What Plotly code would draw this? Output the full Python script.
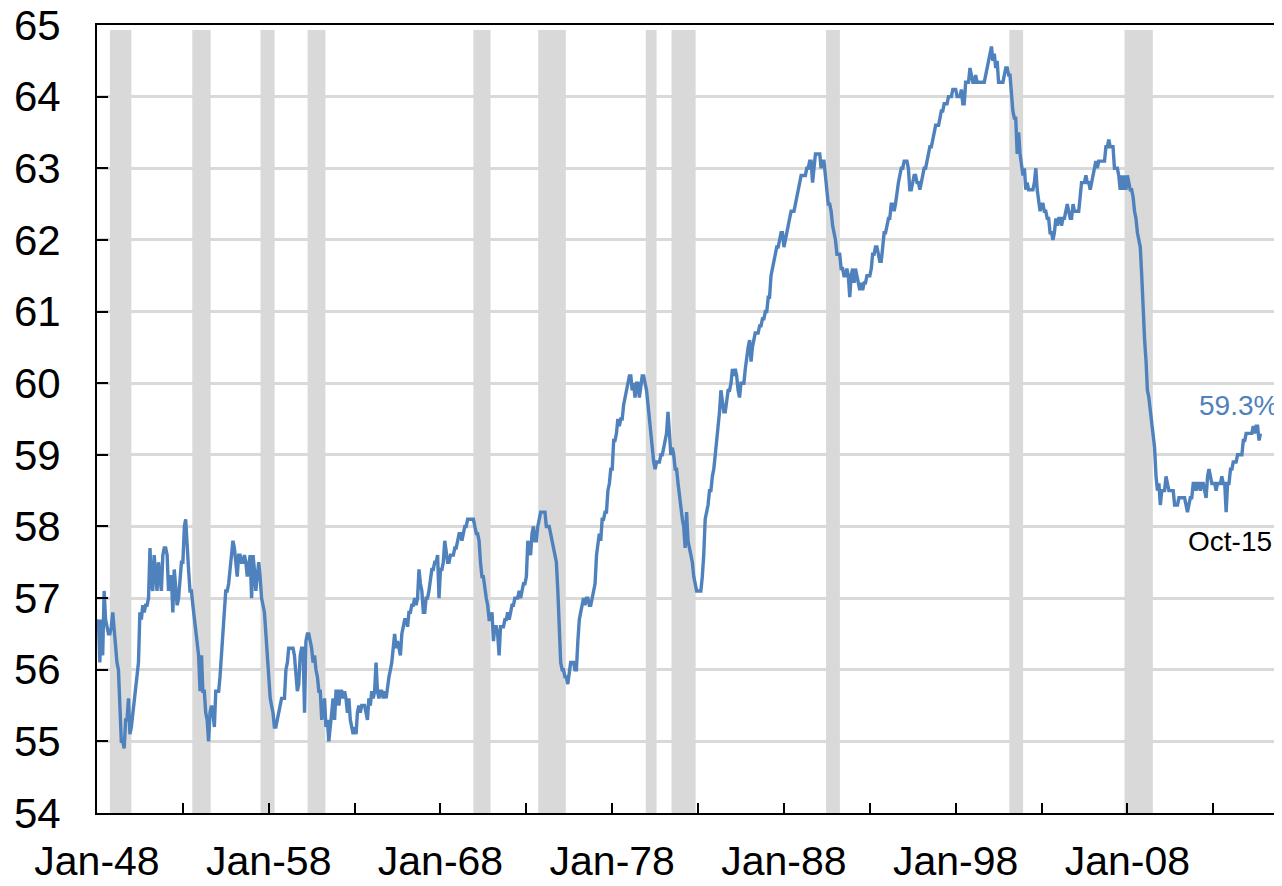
import pandas as pd
import plotly.graph_objects as go

# Employment-population ratio, monthly, seasonally adjusted (%), Jan-1948 .. Oct-2015
ratio_1948_1949 = [
    56.6, 56.7, 56.1, 56.7, 56.2, 57.1, 56.7, 56.6, 56.5, 56.5, 56.6, 56.8,
    56.5, 56.2, 56.1, 56.0, 55.4, 55.0, 55.0, 54.9, 55.3, 55.3, 55.6, 55.1,
]
ratio_1950s = [
    55.2, 55.4, 55.6, 55.8, 55.9, 56.1, 56.8, 56.7, 56.9, 56.8, 56.9, 56.9,
    57.0, 57.7, 57.2, 57.1, 57.6, 57.4, 57.1, 57.5, 57.3, 57.1, 57.6, 57.7,
    57.7, 57.6, 57.1, 57.3, 57.3, 56.8, 57.4, 57.2, 56.9, 57.0, 57.3, 57.5,
    57.5, 58.0, 58.1, 57.6, 57.4, 57.1, 57.1, 56.9, 56.7, 56.5, 56.3, 56.2,
    55.7, 56.2, 55.7, 55.7, 55.4, 55.3, 55.0, 55.4, 55.5, 55.4, 55.2, 55.7,
    55.7, 55.7, 55.9, 56.2, 56.5, 56.8, 57.1, 57.1, 57.2, 57.4, 57.6, 57.8,
    57.7, 57.5, 57.3, 57.6, 57.6, 57.5, 57.5, 57.6, 57.5, 57.3, 57.5, 57.6,
    57.0, 57.6, 57.4, 57.1, 57.3, 57.5, 57.3, 57.0, 56.9, 56.8, 56.5, 56.2,
    55.9, 55.6, 55.5, 55.4, 55.2, 55.2, 55.3, 55.4, 55.5, 55.6, 55.6, 55.6,
    56.0, 56.1, 56.3, 56.3, 56.3, 56.3, 56.2, 56.0, 55.7, 55.8, 56.2, 56.3,
]
ratio_1960s = [
    56.3, 55.4, 56.4, 56.5, 56.5, 56.4, 56.3, 56.1, 56.2, 56.0, 55.9, 55.7,
    55.7, 55.3, 55.5, 55.6, 55.2, 55.3, 55.0, 55.2, 55.4, 55.6, 55.3, 55.7,
    55.7, 55.5, 55.7, 55.7, 55.6, 55.7, 55.6, 55.4, 55.6, 55.3, 55.2, 55.1,
    55.2, 55.1, 55.4, 55.5, 55.4, 55.5, 55.5, 55.5, 55.4, 55.3, 55.6, 55.5,
    55.7, 55.6, 55.7, 56.1, 55.7, 55.6, 55.7, 55.7, 55.6, 55.7, 55.6, 55.8,
    55.9, 56.0, 56.1, 56.3, 56.5, 56.3, 56.4, 56.3, 56.2, 56.5, 56.6, 56.7,
    56.7, 56.6, 56.8, 56.8, 56.9, 56.9, 57.0, 56.9, 57.0, 57.4, 57.2, 57.1,
    56.8, 56.8, 57.0, 57.0, 57.1, 57.3, 57.4, 57.4, 57.5, 57.5, 57.6, 57.0,
    57.4, 57.4, 57.5, 57.8, 57.6, 57.5, 57.5, 57.6, 57.6, 57.6, 57.7, 57.7,
    57.8, 57.9, 57.9, 57.8, 57.9, 58.0, 58.0, 58.1, 58.1, 58.1, 58.1, 58.1,
]
ratio_1970s = [
    58.0, 57.9, 57.9, 57.8, 57.5, 57.3, 57.3, 57.1, 57.0, 56.9, 56.7, 56.7,
    56.8, 56.4, 56.6, 56.6, 56.5, 56.2, 56.6, 56.6, 56.6, 56.7, 56.7, 56.8,
    56.7, 56.8, 56.9, 56.9, 57.0, 57.0, 57.0, 57.1, 57.0, 57.1, 57.2, 57.2,
    57.3, 57.8, 57.7, 57.6, 57.9, 58.0, 57.8, 57.8, 58.0, 58.1, 58.2, 58.2,
    58.2, 58.2, 58.0, 58.0, 58.0, 57.9, 57.8, 57.7, 57.6, 57.5, 57.1, 56.7,
    56.1, 56.0, 56.0, 55.9, 55.9, 55.8, 56.0, 56.1, 56.1, 56.1, 56.0, 56.0,
    56.4, 56.7, 56.8, 56.9, 57.0, 56.9, 57.0, 57.0, 56.9, 56.9, 57.0, 57.1,
    57.2, 57.6, 57.8, 57.9, 57.8, 58.1, 58.1, 58.2, 58.2, 58.5, 58.6, 58.8,
    58.8, 59.2, 59.2, 59.3, 59.5, 59.4, 59.5, 59.5, 59.7, 59.8, 59.9, 60.0,
    60.1, 60.1, 59.9, 60.0, 59.8, 60.0, 60.0, 59.8, 60.0, 60.1, 60.1, 60.0,
]
ratio_1980s = [
    59.9, 59.7, 59.5, 59.4, 59.1, 58.9, 58.8, 58.9, 58.9, 58.9, 59.0, 59.0,
    59.1, 59.2, 59.3, 59.6, 59.3, 59.0, 59.1, 59.0, 58.8, 58.8, 58.6, 58.4,
    58.2, 58.1, 58.0, 57.7, 58.2, 57.8, 57.7, 57.6, 57.5, 57.3, 57.2, 57.1,
    57.1, 57.1, 57.1, 57.3, 57.6, 58.1, 58.2, 58.3, 58.5, 58.5, 58.7, 58.8,
    59.0, 59.2, 59.4, 59.6, 59.9, 59.7, 59.6, 59.6, 59.8, 59.9, 59.9, 60.0,
    60.2, 60.1, 60.2, 60.1, 59.9, 59.8, 60.0, 60.0, 60.0, 60.2, 60.4, 60.5,
    60.6, 60.3, 60.5, 60.6, 60.7, 60.7, 60.7, 60.8, 60.8, 60.9, 60.9, 61.0,
    61.0, 61.2, 61.2, 61.5, 61.6, 61.7, 61.8, 61.9, 61.9, 62.0, 62.1, 62.1,
    61.9, 62.0, 62.1, 62.2, 62.3, 62.4, 62.4, 62.4, 62.5, 62.6, 62.7, 62.8,
    62.9, 62.9, 62.9, 62.9, 63.0, 63.0, 63.1, 63.1, 62.8, 63.0, 63.2, 63.2,
]
ratio_1990s = [
    63.2, 63.2, 63.0, 63.1, 63.1, 62.9, 62.7, 62.5, 62.5, 62.4, 62.2, 62.1,
    62.0, 61.8, 61.8, 61.8, 61.6, 61.6, 61.5, 61.5, 61.6, 61.5, 61.2, 61.5,
    61.6, 61.4, 61.6, 61.5, 61.4, 61.3, 61.4, 61.3, 61.4, 61.4, 61.5, 61.5,
    61.5, 61.6, 61.8, 61.8, 61.9, 61.9, 61.8, 61.7, 61.7, 61.9, 62.1, 62.1,
    62.2, 62.3, 62.3, 62.5, 62.5, 62.4, 62.5, 62.7, 62.8, 62.9, 63.0, 63.0,
    63.1, 63.1, 63.1, 63.0, 62.7, 62.7, 62.8, 62.9, 62.9, 62.8, 62.8, 62.7,
    62.8, 62.9, 63.0, 63.0, 63.1, 63.2, 63.3, 63.3, 63.4, 63.5, 63.6, 63.6,
    63.6, 63.7, 63.8, 63.8, 63.9, 63.9, 63.9, 64.0, 64.0, 64.0, 64.1, 64.1,
    64.1, 64.0, 64.0, 64.0, 64.1, 63.9, 63.9, 64.2, 64.2, 64.2, 64.4, 64.3,
    64.2, 64.2, 64.3, 64.2, 64.2, 64.2, 64.2, 64.2, 64.2, 64.3, 64.4, 64.5,
]
ratio_2000s = [
    64.6, 64.7, 64.5, 64.6, 64.4, 64.5, 64.2, 64.2, 64.2, 64.2, 64.3, 64.4,
    64.4, 64.3, 64.3, 64.0, 63.8, 63.7, 63.7, 63.2, 63.5, 63.2, 63.0, 62.9,
    63.0, 62.7, 62.8, 62.7, 62.7, 62.7, 62.7, 62.8, 63.0, 62.7, 62.5, 62.4,
    62.5, 62.5, 62.4, 62.4, 62.3, 62.3, 62.1, 62.1, 62.0, 62.1, 62.3, 62.2,
    62.3, 62.3, 62.2, 62.3, 62.3, 62.4, 62.5, 62.4, 62.3, 62.3, 62.5, 62.4,
    62.4, 62.4, 62.4, 62.6, 62.8, 62.8, 62.8, 62.9, 62.8, 62.8, 62.7, 62.8,
    62.9, 63.0, 63.1, 63.0, 63.1, 63.1, 63.1, 63.1, 63.1, 63.3, 63.3, 63.4,
    63.3, 63.3, 63.3, 63.0, 63.0, 63.0, 62.9, 62.7, 62.9, 62.7, 62.9, 62.7,
    62.9, 62.8, 62.7, 62.7, 62.6, 62.4, 62.3, 62.1, 62.0, 61.9, 61.5, 61.0,
    60.6, 60.3, 59.9, 59.8, 59.6, 59.4, 59.3, 59.1, 58.7, 58.5, 58.6, 58.3,
]
ratio_2010s = [
    58.5, 58.5, 58.5, 58.7, 58.6, 58.5, 58.5, 58.5, 58.5, 58.3, 58.3, 58.3,
    58.4, 58.4, 58.4, 58.4, 58.4, 58.3, 58.2, 58.3, 58.4, 58.4, 58.6, 58.6,
    58.5, 58.6, 58.6, 58.5, 58.6, 58.6, 58.5, 58.4, 58.7, 58.8, 58.7, 58.6,
    58.6, 58.6, 58.5, 58.6, 58.6, 58.6, 58.7, 58.6, 58.6, 58.2, 58.6, 58.6,
    58.8, 58.8, 58.9, 58.9, 58.9, 59.0, 59.0, 59.0, 59.0, 59.2, 59.2, 59.3,
    59.3, 59.3, 59.3, 59.3, 59.4, 59.3, 59.4, 59.4, 59.2, 59.3,
]
first_month = "1948-01-01"
last_label = "Oct-15"

# Recession shading (start, end)
recession_start = ["1948-10-01", "1953-07-20", "1957-07-10", "1960-04-05", "1969-12-01",
                   "1973-09-10", "1979-12-15", "1981-06-15", "1990-06-15", "2001-02-15",
                   "2007-11-01"]
recession_end = ["1950-01-01", "1954-08-15", "1958-05-05", "1961-04-20", "1970-12-01",
                 "1975-04-20", "1980-08-01", "1982-11-10", "1991-04-05", "2001-12-05",
                 "2009-06-25"]

# Axis ticks
x_tick_dates = ["1948-01-01", "1953-01-01", "1958-01-01", "1963-01-01", "1968-01-01",
                "1973-01-01", "1978-01-01", "1983-01-01", "1988-01-01", "1993-01-01",
                "1998-01-01", "2003-01-01", "2008-01-01", "2013-01-01"]
x_tick_labels = ["Jan-48", "", "Jan-58", "", "Jan-68", "", "Jan-78", "", "Jan-88", "",
                 "Jan-98", "", "Jan-08", ""]
y_ticks = [54, 55, 56, 57, 58, 59, 60, 61, 62, 63, 64, 65]

ratio = (ratio_1948_1949 + ratio_1950s + ratio_1960s + ratio_1970s + ratio_1980s
         + ratio_1990s + ratio_2000s + ratio_2010s)
dates = pd.date_range(first_month, periods=len(ratio), freq="MS")

BLUE = "#4F81BD"
GREY = "#D9D9D9"
FONT = "Liberation Sans, Arial, sans-serif"
Y_MIN, Y_MAX = 54, 65
BAND_TOP = Y_MAX - 0.07

# recession bands as filled polygons (drawn above the gridlines, below the line)
band_x, band_y = [], []
for s, e in zip(recession_start, recession_end):
    band_x += [s, s, e, e, s, None]
    band_y += [Y_MIN, BAND_TOP, BAND_TOP, Y_MIN, Y_MIN, None]

fig = go.Figure()
fig.add_trace(go.Scatter(x=band_x, y=band_y, mode="lines", fill="toself",
                         fillcolor=GREY, line=dict(width=0, color=GREY),
                         hoverinfo="skip", showlegend=False))
fig.add_trace(go.Scatter(x=dates, y=ratio, mode="lines",
                         line=dict(color=BLUE, width=3.4), hoverinfo="x+y",
                         showlegend=False))

fig.add_annotation(x=dates[-1], y=ratio[-1], text=f"{ratio[-1]:.1f}%",
                   showarrow=False, xshift=-22, yshift=28,
                   font=dict(family=FONT, size=28, color=BLUE))
fig.add_annotation(x=dates[-1], y=ratio[-1], text=last_label,
                   showarrow=False, xshift=-30, yshift=-108,
                   font=dict(family=FONT, size=28, color="black"))

# the page body adds an 8px margin, so the figure is sized/offset to compensate
fig.update_layout(
    width=1274, height=878,
    margin=dict(l=89, r=0, t=17, b=73, autoexpand=False),
    paper_bgcolor="white", plot_bgcolor="white",
    font=dict(family=FONT, size=42, color="black"),
    showlegend=False,
)
fig.update_xaxes(
    type="date", range=["1948-01-01", "2017-01-01"], automargin=False,
    tickmode="array", tickvals=x_tick_dates, ticktext=x_tick_labels,
    ticks="inside", ticklen=10, tickwidth=2, tickcolor="black",
    showline=True, linecolor="black", linewidth=2, mirror=True,
    showgrid=False, zeroline=False, ticklabelstandoff=11,
    ticklabeloverflow="allow",
    tickfont=dict(family=FONT, size=41, color="black"),
)
fig.update_yaxes(
    range=[Y_MIN, Y_MAX], automargin=False, tickmode="array", tickvals=y_ticks,
    ticks="inside", ticklen=11, tickwidth=2, tickcolor="black",
    showline=True, linecolor="black", linewidth=2,
    showgrid=True, gridcolor=GREY, gridwidth=2.5, zeroline=False,
    ticklabelstandoff=26, ticklabeloverflow="allow",
    tickfont=dict(family=FONT, size=42, color="black"),
)

fig.write_html("out.html")
